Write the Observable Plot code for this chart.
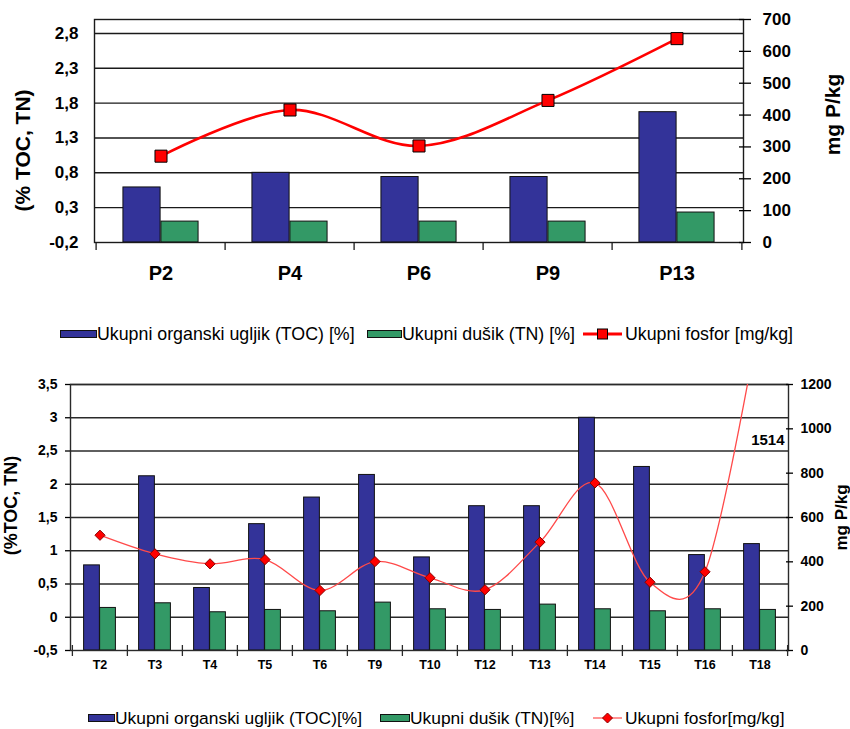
<!DOCTYPE html>
<html><head><meta charset="utf-8">
<script src="https://cdn.jsdelivr.net/npm/d3@7"></script>
<script src="https://cdn.jsdelivr.net/npm/@observablehq/plot@0.6"></script>
<style>
body{margin:0;background:#fff;font-family:"Liberation Sans",Arial,sans-serif;}
#page{position:relative;width:850px;height:729px;overflow:hidden;background:#fff;}
.chart{position:absolute;left:0;}
.legend{position:absolute;left:0;width:850px;height:20px;color:#000;}
.item{position:absolute;top:0;display:flex;align-items:center;height:20px;white-space:nowrap;}
.sw{display:inline-block;box-sizing:border-box;border:1px solid #111;height:8px;}
.item svg{display:block;}
</style></head><body><div id="page"></div>
<script>
// ---------- data: upper chart ----------
const sitesTop = ["P2", "P4", "P6", "P9", "P13"];
const tocTop = [0.59, 0.80, 0.74, 0.74, 1.67];
const tnTop = [0.10, 0.10, 0.10, 0.10, 0.23];
const pTop = [271, 416, 303, 446, 640];
const leftTicksTop = [-0.2, 0.3, 0.8, 1.3, 1.8, 2.3, 2.8];
const rightTicksTop = [0, 100, 200, 300, 400, 500, 600, 700];

// ---------- data: lower chart ----------
const sitesBot = ["T2", "T3", "T4", "T5", "T6", "T9", "T10", "T12", "T13", "T14", "T15", "T16", "T18"];
const tocBot = [0.78, 2.12, 0.44, 1.40, 1.80, 2.14, 0.90, 1.67, 1.67, 3.00, 2.26, 0.935, 1.10];
const tnBot = [0.14, 0.21, 0.075, 0.11, 0.09, 0.22, 0.12, 0.11, 0.19, 0.12, 0.09, 0.12, 0.11];
const pBot = [520, 436, 391, 410, 271, 401, 328, 274, 489, 756, 308, 355, 1514];
const leftTicksBot = [-0.5, 0, 0.5, 1, 1.5, 2, 2.5, 3, 3.5];
const rightTicksBot = [0, 200, 400, 600, 800, 1000, 1200];

const seriesNames = {
  top: ["Ukupni organski ugljik (TOC) [%]", "Ukupni dušik (TN) [%]", "Ukupni fosfor [mg/kg]"],
  bot: ["Ukupni organski ugljik (TOC)[%]", "Ukupni dušik (TN)[%]", "Ukupni fosfor[mg/kg]"]
};
const BLUE = "#333399", GREEN = "#339966", RED = "#ff0000";
const comma = d => String(d).replace(".", ",");

function chart(cfg) {
  const {sites, toc, tn, p, yDomain, pDomain, leftTicks, rightTicks, W, H, mL, mR, mT, mB} = cfg;
  const rows = sites.map((s, i) => ({site: s, toc: toc[i], tn: tn[i], p: p[i]}));
  const toLeft = d3.scaleLinear().domain(pDomain).range(yDomain);
  const band = (W - mL - mR) / sites.length;
  const barW = band * cfg.group / 2;
  const off = (band - 2 * barW) / 2;
  const yMin = yDomain[0];
  const grid = leftTicks.filter(t => t > yMin);
  const txt = {fontWeight: "bold"};
  return Plot.plot({
    width: W, height: H, marginLeft: mL, marginRight: mR, marginTop: mT, marginBottom: mB,
    style: {fontFamily: "Liberation Sans, Arial, sans-serif", background: "white", overflow: "visible"},
    x: {type: "band", domain: sites, padding: 0, label: null, axis: null},
    y: {domain: yDomain, label: null, axis: null},
    marks: [
      Plot.ruleY(grid, {stroke: cfg.gridColor, strokeWidth: 1.4}),
      Plot.barY(rows, {x: "site", y1: yMin, y2: "toc", fill: BLUE, stroke: "#111", strokeWidth: 1,
        insetLeft: off, insetRight: band - off - barW}),
      Plot.barY(rows, {x: "site", y1: yMin, y2: "tn", fill: GREEN, stroke: "#111", strokeWidth: 1,
        insetLeft: off + barW, insetRight: off}),
      Plot.frame({stroke: cfg.gridColor, strokeWidth: 1.4}),
      // left axis
      Plot.axisY(leftTicks, {anchor: "left", tickSize: cfg.leftTick, tickPadding: cfg.leftPad,
        tickFormat: comma, fontSize: cfg.tickFont, ...txt, label: null, strokeWidth: 1.3}),
      // right axis (phosphorus, mapped onto the left scale)
      Plot.axisY(rightTicks.map(toLeft), {anchor: "right", tickSize: cfg.rTick, dx: -cfg.rTickIn,
        tickFormat: () => "", label: null, strokeWidth: 1.3}),
      Plot.axisY(rightTicks.map(toLeft), {anchor: "right", tickSize: 0, tickPadding: cfg.rightPad,
        tickFormat: d => String(Math.round(toLeft.invert(d))), fontSize: cfg.tickFont, ...txt, label: null}),
      // x axis labels
      Plot.axisX(sites, {tickSize: 0, tickPadding: cfg.xPad, fontSize: cfg.xFont, ...txt, label: null}),
      // category boundary ticks
      Plot.axisX(sites, {tickSize: cfg.xTick, dx: -band / 2, dy: -cfg.xTickIn, tickFormat: () => "", label: null, stroke: cfg.gridColor, strokeWidth: 1.3}),
      Plot.axisX([sites[sites.length - 1]], {tickSize: cfg.xTick, dx: band / 2, dy: -cfg.xTickIn, tickFormat: () => "", label: null, stroke: cfg.gridColor, strokeWidth: 1.3}),
      // phosphorus line
      Plot.line(rows, {x: "site", y: d => toLeft(d.p), curve: "cardinal", stroke: cfg.lineColor,
        strokeWidth: cfg.lineWidth, clip: true}),
      Plot.dot(rows, {x: "site", y: d => toLeft(d.p), symbol: cfg.symbol, r: cfg.r, fill: RED,
        stroke: cfg.symStroke, strokeWidth: 1, clip: true}),
      // off-scale value label
      Plot.text(rows.filter(d => d.p > pDomain[1]), {text: d => String(d.p), frameAnchor: "top-right",
        textAnchor: "end", dx: -4, dy: 50, fontSize: 15, ...txt}),
      // axis titles
      Plot.text([cfg.leftTitle], {frameAnchor: "left", textAnchor: "middle", rotate: -90, dx: cfg.ltDx, dy: cfg.ltDy,
        fontSize: cfg.ltFont, ...txt, letterSpacing: cfg.ltLs}),
      Plot.text([cfg.rightTitle], {frameAnchor: "right", textAnchor: "middle", rotate: -90, dx: cfg.rtDx, dy: cfg.rtDy,
        fontSize: cfg.rtFont, ...txt})
    ]
  });
}

const page = document.getElementById("page");

const top1 = chart({
  sites: sitesTop, toc: tocTop, tn: tnTop, p: pTop, yDomain: [-0.2, 3.0], pDomain: [0, 700],
  leftTicks: leftTicksTop, rightTicks: rightTicksTop,
  W: 850, H: 290, mL: 94, mR: 107, mT: 19, mB: 48, group: 0.585, gridColor: "#1a1a1a",
  leftTick: 0, leftPad: 16, rTick: 12, rTickIn: 5, rightPad: 19, tickFont: 17,
  xPad: 23, xFont: 20, xTick: 8, xTickIn: 0,
  lineColor: "#ff0000", lineWidth: 2.6, symbol: "square", r: 6.8, symStroke: "#000",
  leftTitle: "(% TOC, TN)", ltDx: -71, ltDy: 19.5, ltFont: 21, ltLs: "0px",
  rightTitle: "mg P/kg", rtDx: 90, rtDy: -16.5, rtFont: 21
});
top1.classList.add("chart"); top1.style.top = "0px";
page.appendChild(top1);

const bot1 = chart({
  sites: sitesBot, toc: tocBot, tn: tnBot, p: pBot, yDomain: [-0.5, 3.5], pDomain: [0, 1200],
  leftTicks: leftTicksBot, rightTicks: rightTicksBot,
  W: 850, H: 320, mL: 70, mR: 62, mT: 24, mB: 30, group: 0.58, gridColor: "#2a2a2a",
  leftTick: 5, leftPad: 8, rTick: 7, rTickIn: 3, rightPad: 12, tickFont: 14,
  xPad: 10, xFont: 12.5, xTick: 11, xTickIn: 5,
  lineColor: "#ff4a4a", lineWidth: 1.3, symbol: "diamond2", r: 4.6, symStroke: "#8b0000",
  leftTitle: "(%TOC, TN)", ltDx: -59, ltDy: -12, ltFont: 18, ltLs: "0.5px",
  rightTitle: "mg P/kg", rtDx: 53, rtDy: 0, rtFont: 17
});
bot1.classList.add("chart"); bot1.style.top = "360px";
page.appendChild(bot1);

// ---------- legends ----------
function legend(top, fontSize, names, items) {
  const lg = document.createElement("div");
  lg.className = "legend";
  lg.style.top = top + "px";
  lg.style.fontSize = fontSize + "px";
  items.forEach((it, i) => {
    const d = document.createElement("div");
    d.className = "item";
    d.style.left = it.left + "px";
    if (it.type === "box") {
      const s = document.createElement("span");
      s.className = "sw";
      s.style.width = it.w + "px";
      s.style.background = it.color;
      d.appendChild(s);
    } else {
      const w = it.w;
      const sym = it.symbol === "square"
        ? `<rect x="${w/2-5}" y="5" width="10" height="10" fill="${RED}" stroke="#000" stroke-width="1"/>`
        : `<path d="M${w/2},5 L${w/2+5},10 L${w/2},15 L${w/2-5},10 Z" fill="${RED}" stroke="#8b0000" stroke-width="1"/>`;
      d.insertAdjacentHTML("beforeend",
        `<svg width="${w}" height="20"><line x1="0" x2="${w}" y1="10" y2="10" stroke="${it.color}" stroke-width="${it.lw}"/>${sym}</svg>`);
    }
    const t = document.createElement("span");
    t.textContent = names[i];
    t.style.marginLeft = (it.gap || 0) + "px";
    d.appendChild(t);
    lg.appendChild(d);
  });
  page.appendChild(lg);
}
legend(324, 17.8, seriesNames.top, [
  {type: "box", left: 60, w: 37, color: BLUE},
  {type: "box", left: 367, w: 35, color: GREEN},
  {type: "line", left: 583, w: 39, color: RED, lw: 3, symbol: "square", gap: 3}
]);
legend(708, 17.4, seriesNames.bot, [
  {type: "box", left: 88, w: 27, color: BLUE},
  {type: "box", left: 380, w: 30, color: GREEN},
  {type: "line", left: 593, w: 29, color: "#ff5a5a", lw: 1.3, symbol: "diamond", gap: 3}
]);
</script></body></html>
